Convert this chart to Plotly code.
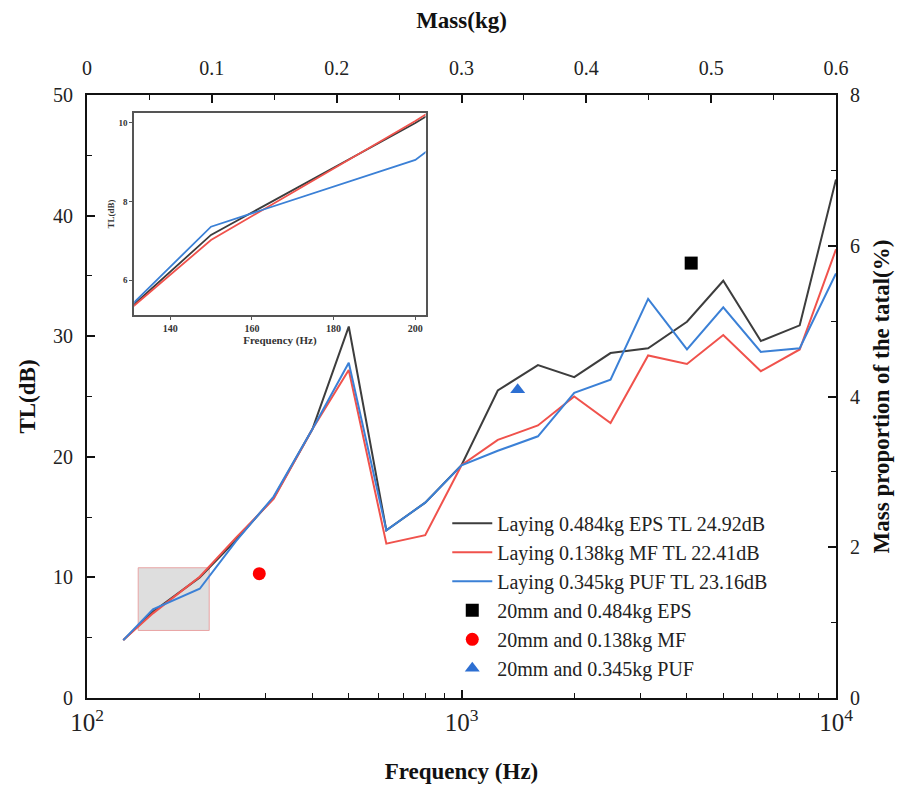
import plotly.graph_objects as go

freq = [125, 150, 200, 250, 315, 400, 500, 630, 800, 1000, 1250, 1600, 2000, 2500, 3150, 4000, 5000, 6300, 8000, 10000]
tl_eps = [4.8, 7.15, 10.0, 13.1, 16.6, 22.3, 30.8, 13.9, 16.2, 19.3, 25.5, 27.6, 26.6, 28.6, 29.0, 31.2, 34.6, 29.6, 30.9, 43.0]
tl_mf = [4.8, 7.02, 10.05, 13.3, 16.5, 22.3, 27.2, 12.8, 13.5, 19.3, 21.4, 22.6, 25.0, 22.8, 28.4, 27.7, 30.1, 27.1, 28.9, 37.2]
tl_puf = [4.8, 7.36, 9.06, 13.0, 16.7, 22.3, 27.8, 13.9, 16.2, 19.3, 20.5, 21.7, 25.3, 26.4, 33.1, 28.9, 32.4, 28.7, 29.0, 35.2]

line_names = ["Laying 0.484kg EPS TL 24.92dB", "Laying 0.138kg MF TL 22.41dB", "Laying 0.345kg PUF TL 23.16dB"]
line_colors = ["#3d3d3d", "#f0524c", "#3b80d6"]

mass = [0.484, 0.138, 0.345]
mass_pct = [5.77, 1.65, 4.09]
pt_names = ["20mm and 0.484kg EPS", "20mm and 0.138kg MF", "20mm and 0.345kg PUF"]
pt_colors = ["#000000", "#ff0000", "#2d6fd2"]
pt_symbols = ["square", "circle", "triangle-up"]

zoom_box_x = [137, 212]
zoom_box_y = [5.6, 10.8]

FONT = "Liberation Serif"

fig = go.Figure()

for y, n, c in zip([tl_eps, tl_mf, tl_puf], line_names, line_colors):
    fig.add_trace(go.Scatter(x=freq, y=y, mode="lines", name=n,
                             line=dict(color=c, width=2), xaxis="x", yaxis="y"))

for m, p, n, c, s in zip(mass, mass_pct, pt_names, pt_colors, pt_symbols):
    fig.add_trace(go.Scatter(x=[m], y=[p], mode="markers", name=n,
                             marker=dict(color=c, symbol=s, size=13),
                             xaxis="x2", yaxis="y2"))

# inset
for y, c in zip([tl_eps, tl_mf, tl_puf], line_colors):
    fig.add_trace(go.Scatter(x=freq, y=y, mode="lines", showlegend=False,
                             line=dict(color=c, width=1.8), xaxis="x3", yaxis="y3"))

fig.add_shape(type="rect", xref="x", yref="y",
              x0=zoom_box_x[0], x1=zoom_box_x[1], y0=zoom_box_y[0], y1=zoom_box_y[1],
              fillcolor="rgba(200,200,200,0.6)", line=dict(color="#e8a4a4", width=1),
              layer="below")

tickfont = dict(family=FONT, size=20, color="#222")
titlefont = dict(family=FONT, size=23, color="#111", weight="bold")
common = dict(showline=True, linecolor="#111", linewidth=2,
              ticks="inside", ticklen=8, tickwidth=1.5, tickcolor="#111",
              showgrid=False, zeroline=False, tickfont=tickfont, automargin=False)
minor = dict(ticks="inside", ticklen=5, tickwidth=1.2, tickcolor="#111")

fig.update_layout(
    width=903, height=787,
    margin=dict(l=79, r=75, t=87, b=97),
    paper_bgcolor="white", plot_bgcolor="white",
    font=dict(family=FONT, color="#222"),
    showlegend=True,
    legend=dict(x=0.481, y=0.322, xanchor="left", yanchor="top",
                bgcolor="rgba(0,0,0,0)", font=dict(family=FONT, size=20, color="#222"),
                tracegroupgap=0, itemwidth=40),
    xaxis=dict(type="log", range=[2, 4], dtick=1, exponentformat="power",
               minor=dict(**minor, dtick="D1"), ticklabelstandoff=2,
               title=dict(text="Frequency (Hz)", font=titlefont, standoff=28), **common),
    yaxis=dict(range=[0, 50], dtick=10, minor=dict(**minor, dtick=5), ticklabelstandoff=8,
               title=dict(text="TL(dB)", font=titlefont, standoff=11), **common),
    xaxis2=dict(overlaying="x", side="top", range=[0, 0.6], dtick=0.1,
                minor=dict(**minor, dtick=0.05), ticklabelstandoff=10,
                title=dict(text="Mass(kg)", font=titlefont, standoff=26), **common),
    yaxis2=dict(overlaying="y", side="right", range=[0, 8], dtick=2,
                minor=dict(**minor, dtick=1), ticklabelstandoff=8,
                title=dict(text="Mass proportion of the tatal(%)", font=titlefont, standoff=14), **common),
    xaxis3=dict(domain=[0.063, 0.452], anchor="y3", range=[131.2, 202.5],
                tickvals=[140, 160, 180, 200], showline=True, mirror=True,
                linecolor="#555", linewidth=2, ticks="outside", ticklen=3, tickcolor="#555",
                showgrid=False, zeroline=False,
                tickfont=dict(family=FONT, size=10, color="#333", weight="bold"),
                title=dict(text="Frequency (Hz)", font=dict(family=FONT, size=11, color="#333", weight="bold"), standoff=2)),
    yaxis3=dict(domain=[0.635, 0.970], anchor="x3", range=[5.11, 10.25],
                tickvals=[6, 8, 10], showline=True, mirror=True,
                linecolor="#555", linewidth=2, ticks="outside", ticklen=3, tickcolor="#555",
                showgrid=False, zeroline=False,
                tickfont=dict(family=FONT, size=9, color="#333", weight="bold"),
                title=dict(text="TL(dB)", font=dict(family=FONT, size=9, color="#333", weight="bold"), standoff=2)),
)

fig.write_html("out.html")
